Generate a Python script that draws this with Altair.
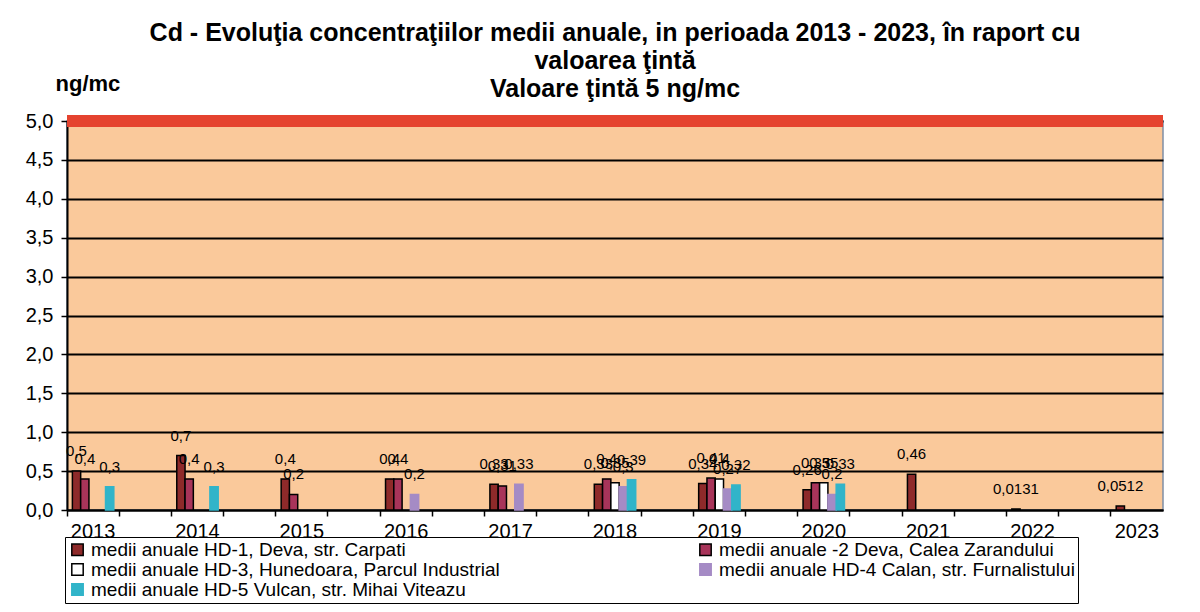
import altair as alt
import pandas as pd

years = ["2013", "2014", "2015", "2016", "2017", "2018", "2019", "2020", "2021", "2022", "2023"]
series_names = [
    "medii anuale HD-1, Deva, str. Carpati",
    "medii anuale -2 Deva, Calea Zarandului",
    "medii anuale HD-3, Hunedoara, Parcul Industrial",
    "medii anuale HD-4 Calan, str. Furnalistului",
    "medii anuale HD-5 Vulcan, str. Mihai Viteazu",
]
hd1 = [0.5, 0.7, 0.4, 0.4, 0.33, 0.33, 0.34, 0.26, 0.46, 0.0131, 0.0512]
hd2 = [0.4, 0.4, 0.2, 0.4, 0.31, 0.40, 0.41, 0.35, None, None, None]
hd3 = [None, None, None, None, None, 0.35, 0.40, 0.35, None, None, None]
hd4 = [None, None, None, 0.2, 0.33, 0.30, 0.27, 0.20, None, None, None]
hd5 = [0.3, 0.3, None, None, None, 0.39, 0.32, 0.33, None, None, None]
target_value = 5.0
y_ticks = [0, 0.5, 1, 1.5, 2, 2.5, 3, 3.5, 4, 4.5, 5]

fill_of = {
    series_names[0]: "#8E2A2A",
    series_names[1]: "#A8345A",
    series_names[2]: "#FFFFFF",
    series_names[3]: "#A58BC5",
    series_names[4]: "#31B4C9",
}
stroke_of = {
    series_names[0]: "#000000",
    series_names[1]: "#000000",
    series_names[2]: "#000000",
    series_names[3]: "#A58BC5",
    series_names[4]: "#31B4C9",
}
# legend fills column by column: order so it reads HD-1 | -2 / HD-3 | HD-4 / HD-5
legend_order = [series_names[0], series_names[2], series_names[4], series_names[1], series_names[3]]

rows = []
for name, vals in zip(series_names, [hd1, hd2, hd3, hd4, hd5]):
    for y, v in zip(years, vals):
        if v is not None:
            rows.append({"year": y, "series": name, "value": v})
df = pd.DataFrame(rows)

# category slots: each year followed by an empty slot (as in the original chart)
slots = []
for i, y in enumerate(years):
    slots.append(y)
    if i < len(years) - 1:
        slots.append("g" + str(i))

font = "Liberation Sans"

x_axis = alt.Axis(
    title=None,
    labelExpr="indexof(datum.label, 'g') == 0 ? '' : datum.label",
    labelAngle=0,
    labelFontSize=20,
    labelColor="black",
    labelFont=font,
    labelPadding=5,
    bandPosition=0,
    tickColor="black",
    tickSize=6,
    tickWidth=1.5,
    domainColor="black",
    domainWidth=2,
    grid=False,
)
x_scale = alt.Scale(domain=slots, paddingInner=0, paddingOuter=0)
xoff_scale = alt.Scale(domain=series_names, paddingInner=0, paddingOuter=0.65)

y_axis = alt.Axis(
    values=y_ticks,
    labelExpr="replace(format(datum.value, '.1f'), '.', ',')",
    labelFontSize=20,
    labelFont=font,
    labelColor="black",
    labelPadding=8,
    tickColor="black",
    tickSize=6,
    tickWidth=1.5,
    domainColor="black",
    domainWidth=2,
    gridColor="black",
    gridWidth=2,
    title="ng/mc",
    titleAngle=0,
    titleAlign="left",
    titleBaseline="alphabetic",
    titleX=-12,
    titleY=-31,
    titleFontSize=22,
    titleFont=font,
    titleFontWeight="bold",
    titleColor="black",
)
y_scale = alt.Scale(domain=[0, 5])

bars = alt.Chart(df).mark_bar(strokeWidth=1.5).encode(
    x=alt.X("year:N", scale=x_scale, sort=slots, axis=x_axis),
    xOffset=alt.XOffset("series:N", sort=series_names, scale=xoff_scale),
    y=alt.Y("value:Q", scale=y_scale, axis=y_axis),
    fill=alt.Fill(
        "series:N",
        scale=alt.Scale(domain=legend_order, range=[fill_of[s] for s in legend_order]),
        legend=alt.Legend(
            title=None,
            orient="none",
            legendX=-2,
            legendY=416,
            columns=2,
            columnPadding=196,
            rowPadding=0,
            labelFontSize=19,
            labelFont=font,
            labelColor="black",
            labelLimit=700,
            symbolType="square",
            symbolSize=130,
            symbolStrokeWidth=1.5,
            strokeColor="black",
            padding=3,
        ),
    ),
    stroke=alt.Stroke(
        "series:N",
        scale=alt.Scale(domain=legend_order, range=[stroke_of[s] for s in legend_order]),
        legend=None,
    ),
)

labels = alt.Chart(df).transform_calculate(
    lab="replace(toString(datum.value), '.', ',')"
).mark_text(
    baseline="bottom", dy=-12, fontSize=15, font=font, color="black"
).encode(
    x=alt.X("year:N", scale=x_scale, sort=slots, axis=x_axis),
    xOffset=alt.XOffset("series:N", sort=series_names, scale=xoff_scale),
    y=alt.Y("value:Q", scale=y_scale, axis=y_axis),
    text="lab:N",
)

target = alt.Chart(pd.DataFrame({"value": [target_value]})).mark_rule(
    color="#E5432F", strokeWidth=12
).encode(y=alt.Y("value:Q", scale=y_scale, axis=y_axis))

chart = alt.layer(bars, labels, target).properties(
    width=1096,
    height=389,
    background="white",
    title=alt.Title(
        ["Cd - Evoluţia concentraţiilor medii anuale, in perioada 2013 - 2023, în raport cu",
         "valoarea ţintă",
         "Valoare ţintă 5 ng/mc"],
        fontSize=25,
        font=font,
        fontWeight="bold",
        color="black",
        lineHeight=28,
        anchor="middle",
        offset=-30,
    ),
    padding={"left": 17, "top": 13, "right": 8, "bottom": 0},
).configure_view(
    fill="#FAC99B", stroke="#7F8FA6", strokeWidth=1.5
)

chart.save("out.html", embed_options={"renderer": "svg", "actions": False})
